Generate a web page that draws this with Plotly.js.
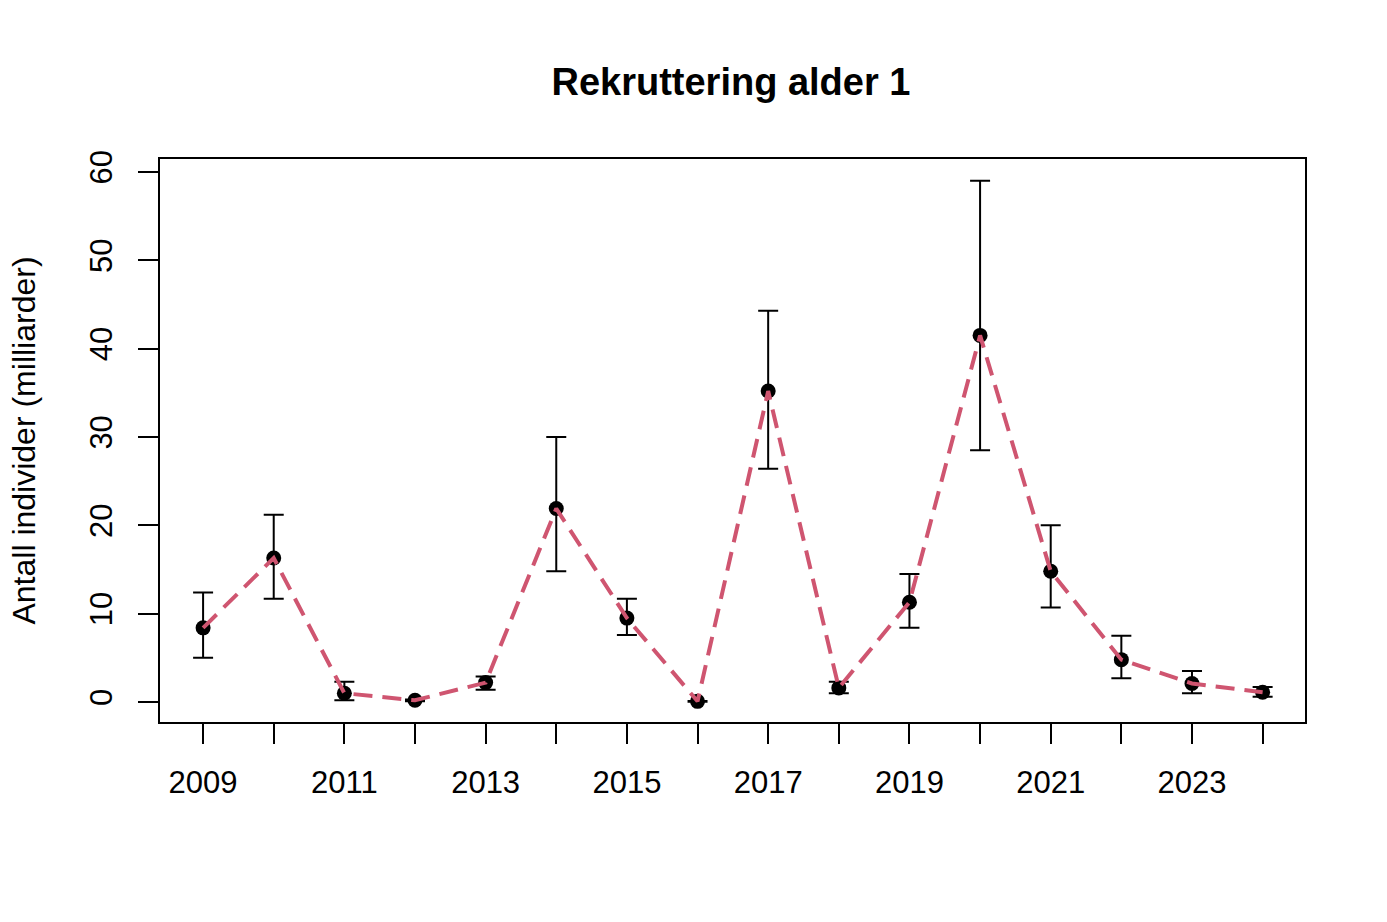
<!DOCTYPE html>
<html>
<head>
<meta charset="utf-8">
<script src="https://cdn.plot.ly/plotly-3.0.1.min.js"></script>
<style>
  html, body { margin: 0; padding: 0; background: #fff; }
  #plotDiv { width: 1387px; height: 922px; }
</style>
</head>
<body>
<div id="plotDiv"></div>
<script>
var years = [2009, 2010, 2011, 2012, 2013, 2014, 2015, 2016, 2017, 2018, 2019, 2020, 2021, 2022, 2023, 2024];
var estimate = [8.4, 16.3, 1.0, 0.2, 2.2, 21.9, 9.5, 0.08, 35.2, 1.6, 11.3, 41.5, 14.8, 4.8, 2.1, 1.1];
var upper = [12.4, 21.2, 2.3, 0.3, 2.9, 30.0, 11.7, 0.12, 44.3, 2.3, 14.5, 59.0, 20.0, 7.5, 3.5, 1.7];
var lower = [5.0, 11.7, 0.2, 0.1, 1.4, 14.8, 7.6, 0.04, 26.4, 1.0, 8.4, 28.5, 10.7, 2.7, 1.0, 0.6];

var xTickText = years.map(function (y) { return y % 2 === 1 ? String(y) : ""; });
var yTicks = [0, 10, 20, 30, 40, 50, 60];

var errPlus = upper.map(function (u, i) { return u - estimate[i]; });
var errMinus = lower.map(function (l, i) { return estimate[i] - l; });

var data = [
  {
    type: "scatter",
    mode: "markers",
    x: years,
    y: estimate,
    marker: { color: "black", size: 15 },
    error_y: {
      type: "data",
      symmetric: false,
      array: errPlus,
      arrayminus: errMinus,
      color: "black",
      thickness: 2,
      width: 10
    },
    hoverinfo: "x+y"
  },
  {
    type: "scatter",
    mode: "lines",
    x: years,
    y: estimate,
    line: { color: "#CF5570", width: 4, dash: "19px,10px" },
    hoverinfo: "skip"
  }
];

var layout = {
  width: 1387,
  height: 922,
  margin: { l: 160, r: 82, t: 159, b: 200 },
  paper_bgcolor: "white",
  plot_bgcolor: "white",
  showlegend: false,
  font: { family: "Liberation Sans, Arial, sans-serif", size: 32, color: "black" },
  title: {
    text: "<b>Rekruttering alder 1</b>",
    font: { size: 38, color: "black" },
    x: 0.527,
    xanchor: "center",
    y: 0.911,
    yanchor: "middle"
  },
  xaxis: {
    range: [2008.39, 2024.6],
    tickvals: years,
    ticktext: xTickText,
    ticks: "outside",
    ticklen: 20,
    tickwidth: 2,
    tickcolor: "black",
    ticklabelstandoff: 12,
    showgrid: false,
    zeroline: false,
    showline: true,
    linecolor: "black",
    linewidth: 2,
    mirror: true,
    tickfont: { size: 31 }
  },
  yaxis: {
    range: [-2.26, 61.47],
    tickvals: yTicks,
    ticks: "outside",
    ticklen: 20,
    tickwidth: 2,
    tickcolor: "black",
    tickangle: -90,
    ticklabelstandoff: 14,
    showgrid: false,
    zeroline: false,
    showline: true,
    linecolor: "black",
    linewidth: 2,
    mirror: true,
    tickfont: { size: 31 },
    title: { text: "Antall individer (milliarder)", font: { size: 32 }, standoff: 38 }
  }
};

Plotly.newPlot("plotDiv", data, layout, { displayModeBar: false, staticPlot: true });
</script>
</body>
</html>
